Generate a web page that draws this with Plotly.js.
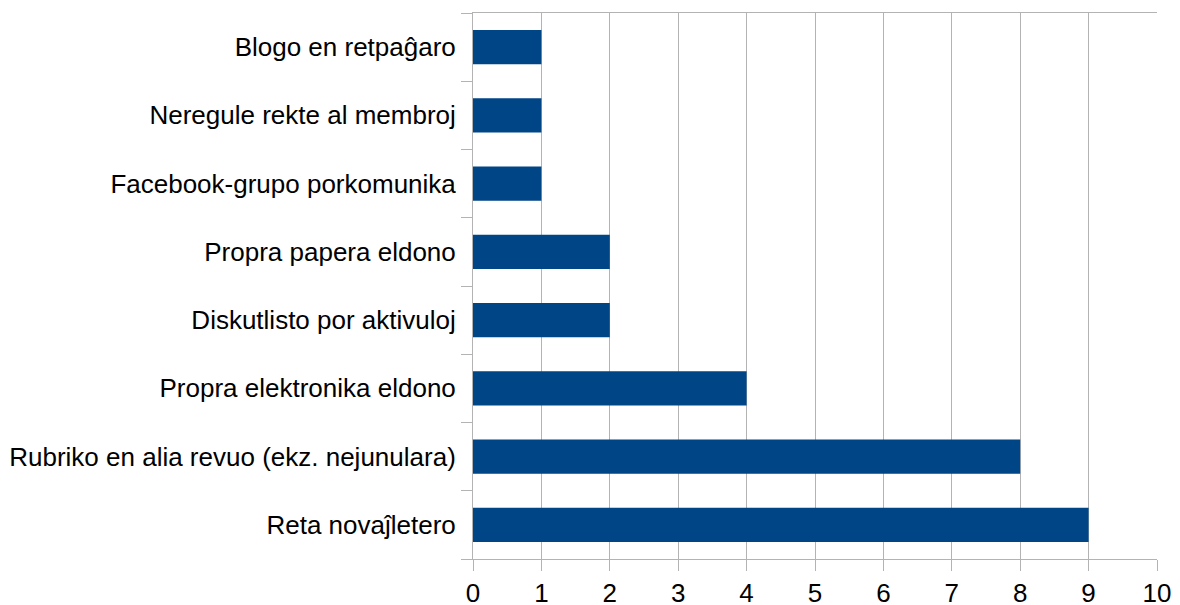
<!DOCTYPE html>
<html><head><meta charset="utf-8">
<script src="https://cdn.plot.ly/plotly-3.0.1.min.js"></script>
<style>html,body{margin:0;padding:0;background:#fff}</style>
</head><body>
<div id="chart" style="width:1180px;height:605px"></div>
<script>
const categories = [
  "Reta novaĵletero",
  "Rubriko en alia revuo (ekz. nejunulara)",
  "Propra elektronika eldono",
  "Diskutlisto por aktivuloj",
  "Propra papera eldono",
  "Facebook-grupo porkomunika",
  "Neregule rekte al membroj",
  "Blogo en retpaĝaro"
];
const values = [9, 8, 4, 2, 2, 1, 1, 1];
const xTicks = [0,1,2,3,4,5,6,7,8,9,10];

const trace = {
  type: "bar", orientation: "h",
  y: categories, x: values,
  marker: {color: "#004586"},
  hoverinfo: "none"
};
const layout = {
  width: 1180, height: 605,
  margin: {l: 473, r: 23, t: 13, b: 46},
  paper_bgcolor: "#fff", plot_bgcolor: "#fff",
  showlegend: false,
  bargap: 0.5,
  font: {family: "Liberation Sans, Arial, sans-serif", size: 26, color: "#000"},
  xaxis: {
    range: [0, 10], tickvals: xTicks, ticktext: xTicks.map(String),
    showgrid: true, gridcolor: "#b3b3b3", gridwidth: 1,
    showline: true, linecolor: "#b3b3b3", linewidth: 1, mirror: true,
    ticks: "outside", ticklen: 11, tickcolor: "#b3b3b3",
    zeroline: false, tickfont: {size: 26}
  },
  yaxis: {
    type: "category", categoryorder: "array", categoryarray: categories,
    tickson: "boundaries", ticks: "outside", ticklen: 11, tickcolor: "#b3b3b3",
    showgrid: false, showline: true, linecolor: "#b3b3b3", linewidth: 1,
    zeroline: false, ticklabelstandoff: 11, tickfont: {size: 26}
  }
};
Plotly.newPlot("chart", [trace], layout, {staticPlot: true, displayModeBar: false});
</script>
</body></html>
